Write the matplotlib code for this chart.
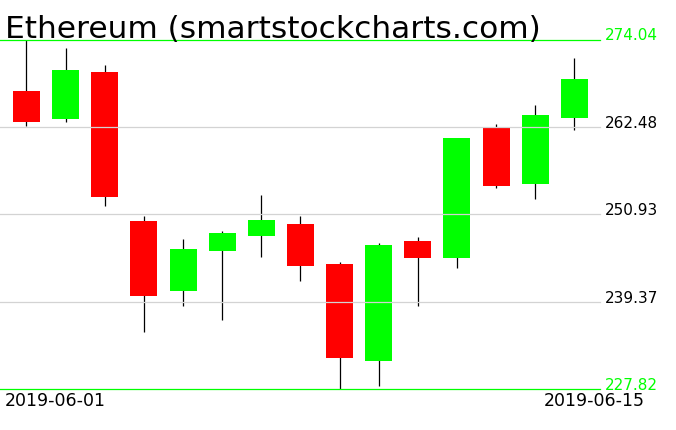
import matplotlib
matplotlib.use("Agg")
import matplotlib.pyplot as plt
import numpy as np

dates = ["2019-06-01", "2019-06-02", "2019-06-03", "2019-06-04", "2019-06-05",
         "2019-06-06", "2019-06-07", "2019-06-08", "2019-06-09", "2019-06-10",
         "2019-06-11", "2019-06-12", "2019-06-13", "2019-06-14", "2019-06-15"]
opens  = [267.25, 263.59, 269.76, 250.07, 240.85, 246.14, 248.12, 249.67, 244.38, 231.60,
          247.42, 245.22, 262.36, 255.00, 263.72]
highs  = [274.04, 272.94, 270.69, 250.77, 247.69, 248.71, 253.50, 250.77, 244.69, 247.16,
          247.95, 261.08, 262.85, 265.40, 271.61]
lows   = [262.67, 263.19, 252.09, 235.43, 238.87, 237.02, 245.35, 242.18, 227.82, 228.30,
          238.87, 243.89, 254.43, 253.02, 262.14]
closes = [263.19, 270.03, 253.28, 240.19, 246.37, 248.48, 250.20, 244.16, 232.00, 246.89,
          245.22, 261.04, 254.69, 264.08, 268.84]
grid_levels = [239.37, 250.93, 262.48]
y_min, y_max = 227.82, 274.04
title = "Ethereum (smartstockcharts.com)"

W, H = 676, 431
fig = plt.figure(figsize=(W / 100, H / 100), dpi=100)
top_px, bot_px, right_px = 40.5, 390.3, 600
ax = fig.add_axes([0, (H - bot_px) / H, right_px / W, (bot_px - top_px) / H])
ax.set_axis_off()

x = np.arange(len(dates))
o = np.array(opens); c = np.array(closes)
colors = ["#00ff00" if cc >= oo else "#ff0000" for oo, cc in zip(o, c)]
ax.vlines(x, lows, highs, color="black", lw=0.9, zorder=1, clip_on=False)
ax.bar(x, np.abs(c - o), bottom=np.minimum(o, c), width=0.69, color=colors, zorder=2)

for g in grid_levels:
    ax.axhline(g, color="#d3d3d3", lw=0.9, zorder=3, clip_on=False)
for g in (y_min, y_max):
    ax.axhline(g, color="#00ff00", lw=0.9, zorder=3, clip_on=False)

ax.set_xlim(-0.677, 14.657)
ax.set_ylim(y_min, y_max)

tr = ax.get_yaxis_transform()
for g in [y_max] + grid_levels[::-1] + [y_min]:
    col = "#00ff00" if g in (y_min, y_max) else "black"
    ax.text(605 / right_px, g, f"{g:.2f}", transform=tr, color=col,
            fontsize=11, va="baseline", ha="left", clip_on=False)

fig.text(5 / W, (H - 38) / H, title, fontsize=22.5, va="baseline", ha="left")
fig.text(5 / W, (H - 406) / H, dates[0], fontsize=12.5, va="baseline", ha="left")
fig.text(645 / W, (H - 406) / H, dates[-1], fontsize=12.5, va="baseline", ha="right")

fig.savefig("out.png", dpi=100)
